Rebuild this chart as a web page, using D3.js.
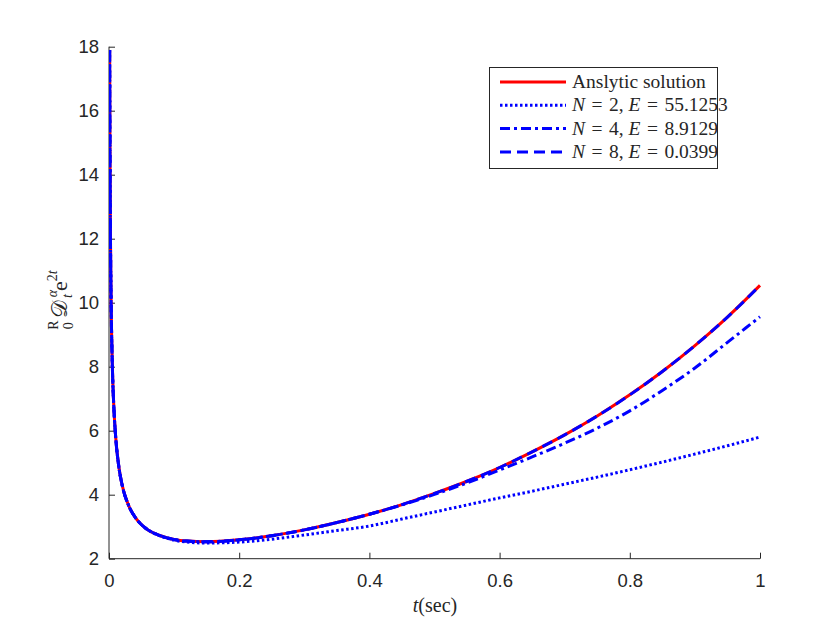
<!DOCTYPE html>
<html lang="en">
<head>
<meta charset="UTF-8"/>
<title>Fractional derivative approximation</title>
<script src="https://d3js.org/d3.v7.min.js"></script>
<style>
    body { margin: 0; background: #fff; }
    .tick text { font-family: "Liberation Sans", Arial, sans-serif; font-size: 18.5px; fill: #262626; }
    .tick line, .domain { stroke: #262626; }
    .tex { font-family: "Liberation Serif", "DejaVu Serif", serif; fill: #262626; }
</style>
</head>
<body>
<script>
    // chart size and plot box
    var w = 840;
    var h = 630;
    var mLeft = 109, mRight = 760, mTop = 46.7, mBottom = 558.7;

    // sample times (sec)
    var times = [0.001, 0.0015, 0.002, 0.003, 0.005, 0.0075, 0.01, 0.015, 0.02, 0.03, 0.04, 0.05,
        0.06, 0.07, 0.08, 0.1, 0.12, 0.15, 0.2, 0.25, 0.3, 0.35, 0.4, 0.45, 0.5, 0.55, 0.6, 0.65,
        0.7, 0.75, 0.8, 0.85, 0.9, 0.95, 1.0];

    // analytic solution
    var exact = [17.9, 14.66, 12.72, 10.43, 8.14, 6.71, 5.87, 4.89, 4.32, 3.67, 3.30, 3.06,
        2.90, 2.79, 2.71, 2.60, 2.55, 2.53, 2.59, 2.72, 2.90, 3.13, 3.39, 3.69, 4.04, 4.42, 4.85, 5.34,
        5.87, 6.46, 7.12, 7.85, 8.66, 9.55, 10.54];

    // N = 2
    var n2 = [17.9, 14.66, 12.72, 10.43, 8.14, 6.71, 5.87, 4.89, 4.32, 3.67, 3.30, 3.06,
        2.90, 2.78, 2.70, 2.58, 2.52, 2.49, 2.52, 2.61, 2.74, 2.88, 3.02, 3.24, 3.46, 3.68, 3.90, 4.11,
        4.33, 4.55, 4.78, 5.02, 5.27, 5.53, 5.80];

    // N = 4
    var n4 = [17.9, 14.66, 12.72, 10.43, 8.14, 6.71, 5.87, 4.89, 4.32, 3.67, 3.30, 3.06,
        2.90, 2.79, 2.71, 2.60, 2.55, 2.53, 2.59, 2.72, 2.90, 3.13, 3.39, 3.68, 4.01, 4.37, 4.77, 5.18,
        5.61, 6.08, 6.62, 7.26, 7.96, 8.76, 9.56];

    // N = 8
    var n8 = exact.slice();

    var xTicks = [0, 0.2, 0.4, 0.6, 0.8, 1];
    var yTicks = [2, 4, 6, 8, 10, 12, 14, 16, 18];

    var series = [
        { vals: exact, color: "#ff0000", dash: null, label: ["Anslytic solution"] },
        { vals: n2, color: "#0000ff", dash: "2.5,2.5", label: ["N", " = 2, ", "E", " = 55.1253"] },
        { vals: n4, color: "#0000ff", dash: "10,4,3,4", label: ["N", " = 4, ", "E", " = 8.9129"] },
        { vals: n8, color: "#0000ff", dash: "11,6", label: ["N", " = 8, ", "E", " = 0.0399"] }
    ];

    var xScale = d3.scaleLinear().domain([0, 1]).range([mLeft, mRight]);
    var yScale = d3.scaleLinear().domain([2, 18]).range([mBottom, mTop]);

    var svg = d3.select("body").append("svg")
        .attr("width", w)
        .attr("height", h);

    svg.append("defs").append("clipPath").attr("id", "plot")
        .append("rect")
        .attr("x", mLeft).attr("y", mTop - 2)
        .attr("width", mRight - mLeft + 2).attr("height", mBottom - mTop + 2);

    // axes, ticks pointing inward
    svg.append("g")
        .attr("transform", "translate(0," + mBottom + ")")
        .call(d3.axisBottom(xScale).tickValues(xTicks).tickSize(-6).tickPadding(15)
            .tickFormat(function (d) { return d; }))
        .call(function (g) { g.select(".domain").attr("d", "M" + mLeft + ",0H" + mRight); });

    svg.append("g")
        .attr("transform", "translate(" + mLeft + ",0)")
        .call(d3.axisLeft(yScale).tickValues(yTicks).tickSize(-6).tickPadding(10))
        .call(function (g) { g.select(".domain").attr("d", "M0," + mTop + "V" + mBottom); });

    // curves
    var line = d3.line()
        .x(function (d, i) { return xScale(times[i]); })
        .y(function (d) { return yScale(d); })
        .curve(d3.curveMonotoneX);

    svg.append("g").attr("clip-path", "url(#plot)")
        .selectAll("path")
        .data(series)
        .enter()
        .append("path")
        .attr("d", function (d) { return line(d.vals); })
        .attr("fill", "none")
        .attr("stroke", function (d) { return d.color; })
        .attr("stroke-width", 3)
        .attr("stroke-dasharray", function (d) { return d.dash; });

    // legend
    var lg = svg.append("g");
    lg.append("rect")
        .attr("x", 489.5).attr("y", 67.5)
        .attr("width", 228).attr("height", 101)
        .attr("fill", "#fff").attr("stroke", "#262626").attr("stroke-width", 1);

    var rows = lg.selectAll("g.row")
        .data(series)
        .enter()
        .append("g")
        .attr("class", "row")
        .attr("transform", function (d, i) { return "translate(0," + (82 + i * 23.3) + ")"; });

    rows.append("line")
        .attr("x1", 500).attr("x2", 566)
        .attr("stroke", function (d) { return d.color; })
        .attr("stroke-width", 3)
        .attr("stroke-dasharray", function (d) { return d.dash; });

    rows.append("text")
        .attr("class", "tex")
        .attr("x", 572)
        .attr("y", 6)
        .attr("font-size", "19.5px")
        .selectAll("tspan")
        .data(function (d) { return d.label; })
        .enter()
        .append("tspan")
        .attr("font-style", function (d) { return (d === "N" || d === "E") ? "italic" : null; })
        .attr("xml:space", "preserve")
        .text(function (d) { return d.replace(/ = /, "\u2004=\u2004"); });

    // x label
    var xl = svg.append("text")
        .attr("class", "tex")
        .attr("x", 435).attr("y", 612)
        .attr("text-anchor", "middle")
        .attr("font-size", "20px");
    xl.append("tspan").attr("font-style", "italic").text("t");
    xl.append("tspan").text("(sec)");

    // y label
    var yl = svg.append("text")
        .attr("class", "tex")
        .attr("transform", "translate(67,300) rotate(-90)")
        .attr("text-anchor", "middle")
        .attr("font-size", "22px");
    yl.append("tspan").attr("font-size", "14px").attr("dy", "-9").text("R");
    yl.append("tspan").attr("font-size", "14px").attr("dx", "-9").attr("dy", "15").text("0");
    yl.append("tspan").attr("dx", "4").attr("dy", "-6").text("\u{1D49F}");
    yl.append("tspan").attr("font-size", "14px").attr("font-style", "italic").attr("dx", "3").attr("dy", "-10").text("α");
    yl.append("tspan").attr("font-size", "14px").attr("font-style", "italic").attr("dx", "-8").attr("dy", "15").text("t");
    yl.append("tspan").attr("dx", "3").attr("dy", "-5").text("e");
    yl.append("tspan").attr("font-size", "14px").attr("dy", "-10").text("2");
    yl.append("tspan").attr("font-size", "14px").attr("font-style", "italic").text("t");
</script>
</body>
</html>
